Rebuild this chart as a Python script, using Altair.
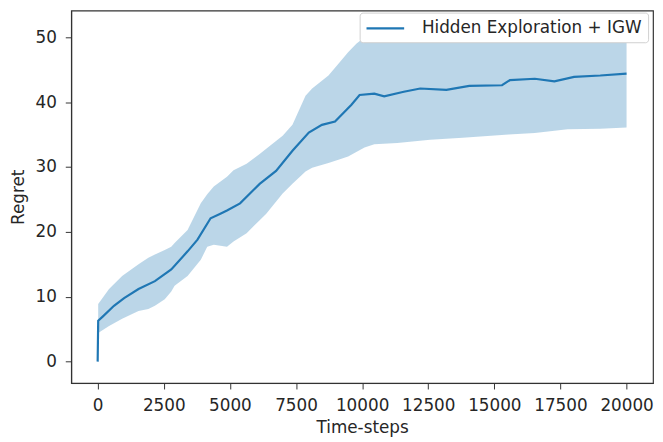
import altair as alt
import pandas as pd

# Mean regret curve
mean_t = [0, 20, 180, 617, 1000, 1545, 2165, 2783, 3400, 3775, 4270, 4640, 4890,
          5384, 6126, 6746, 7366, 7984, 8480, 8975, 9596, 9904, 10461, 10833,
          11576, 12196, 13186, 14053, 15290, 15590, 16530, 17270, 18015, 19005, 19999]
mean_v = [0.0, 6.3, 6.9, 8.6, 9.8, 11.2, 12.4, 14.2, 17.0, 18.8, 22.1, 22.8, 23.3,
          24.4, 27.4, 29.4, 32.5, 35.3, 36.5, 37.0, 39.6, 41.1, 41.3, 40.9,
          41.6, 42.1, 41.9, 42.5, 42.6, 43.4, 43.6, 43.2, 43.9, 44.1, 44.4]

# Shaded band (lower / upper edges)
band_t = [20, 430, 925, 1545, 1917, 2165, 2537, 2783, 2909, 3400, 3900, 4143, 4390,
          4890, 5137, 5632, 6126, 6375, 6995, 7366, 7860, 8110, 8727, 9160, 9470,
          9780, 10090, 10461, 11330, 12570, 13800, 15540, 16530, 17770, 19005, 19999]
band_lo = [4.4, 5.5, 6.6, 7.8, 8.1, 8.6, 9.6, 10.8, 11.7, 13.2, 15.7, 17.7, 18.0,
           17.7, 18.5, 19.8, 21.8, 22.8, 25.9, 27.4, 29.3, 29.9, 30.6, 31.2, 31.6,
           32.3, 33.0, 33.5, 33.7, 34.2, 34.5, 35.0, 35.25, 35.8, 35.9, 36.1]
band_hi = [8.9, 11.2, 13.2, 15.0, 16.0, 16.5, 17.2, 17.7, 18.3, 20.3, 24.4, 25.8, 27.0,
           28.5, 29.5, 30.5, 32.0, 32.8, 34.8, 36.5, 41.0, 42.1, 44.1, 46.2, 47.7,
           49.0, 50.0, 50.0, 50.3, 50.3, 50.5, 51.3, 51.8, 51.8, 52.2, 52.6]

series = "Hidden Exploration + IGW"
x_ticks = [0, 2500, 5000, 7500, 10000, 12500, 15000, 17500, 20000]
y_ticks = [0, 10, 20, 30, 40, 50]

line_df = pd.DataFrame({"t": mean_t, "v": mean_v, "s": series})
band_df = pd.DataFrame({"t": band_t, "lo": band_lo, "hi": band_hi})

BLUE = "#1f77b4"
FS = 17
x_scale = alt.Scale(domain=[-1000, 21000], nice=False, zero=False)
y_scale = alt.Scale(domain=[-3.3, 54.1], nice=False, zero=False)

x_enc = alt.X("t:Q", scale=x_scale,
              axis=alt.Axis(values=x_ticks, format="d", title="Time-steps",
                            titlePadding=6, labelPadding=9))

band = alt.Chart(band_df).mark_area(color=BLUE, opacity=0.3, clip=True).encode(
    x=x_enc,
    y=alt.Y("lo:Q", scale=y_scale,
            axis=alt.Axis(values=y_ticks, title="Regret", titlePadding=8,
                          labelPadding=9)),
    y2="hi:Q",
)

line = alt.Chart(line_df).mark_line(strokeWidth=2.2, clip=True).encode(
    x=alt.X("t:Q", scale=x_scale),
    y=alt.Y("v:Q", scale=y_scale),
    color=alt.Color("s:N", scale=alt.Scale(range=[BLUE]), title=None,
                    legend=alt.Legend(orient="none", legendX=292, legendY=2,
                                      padding=6, strokeColor="#d0d0d0",
                                      fillColor="#ffffff", cornerRadius=3,
                                      symbolType="M-2.2,0H2.2", symbolSize=300,
                                      symbolStrokeWidth=2.2, symbolOffset=10,
                                      labelFontSize=FS, labelLimit=0,
                                      labelFont="DejaVu Sans", labelColor="#262626",
                                      labelOffset=27)),
)

chart = alt.layer(band, line).properties(
    width=589, height=377,
    autosize=alt.AutoSizeParams(type="none"),
    padding={"left": 64, "top": 0, "right": 2, "bottom": 56},
).configure_view(
    stroke="#333333", strokeWidth=1.2
).configure_axis(
    grid=False, domainColor="#333333", tickColor="#333333", tickSize=6,
    labelFont="DejaVu Sans", labelFontSize=FS, labelColor="#262626",
    titleFont="DejaVu Sans", titleFontSize=FS, titleFontWeight="normal",
    titleColor="#262626",
)

chart.save("out.html", embed_options={"renderer": "svg", "actions": False})
